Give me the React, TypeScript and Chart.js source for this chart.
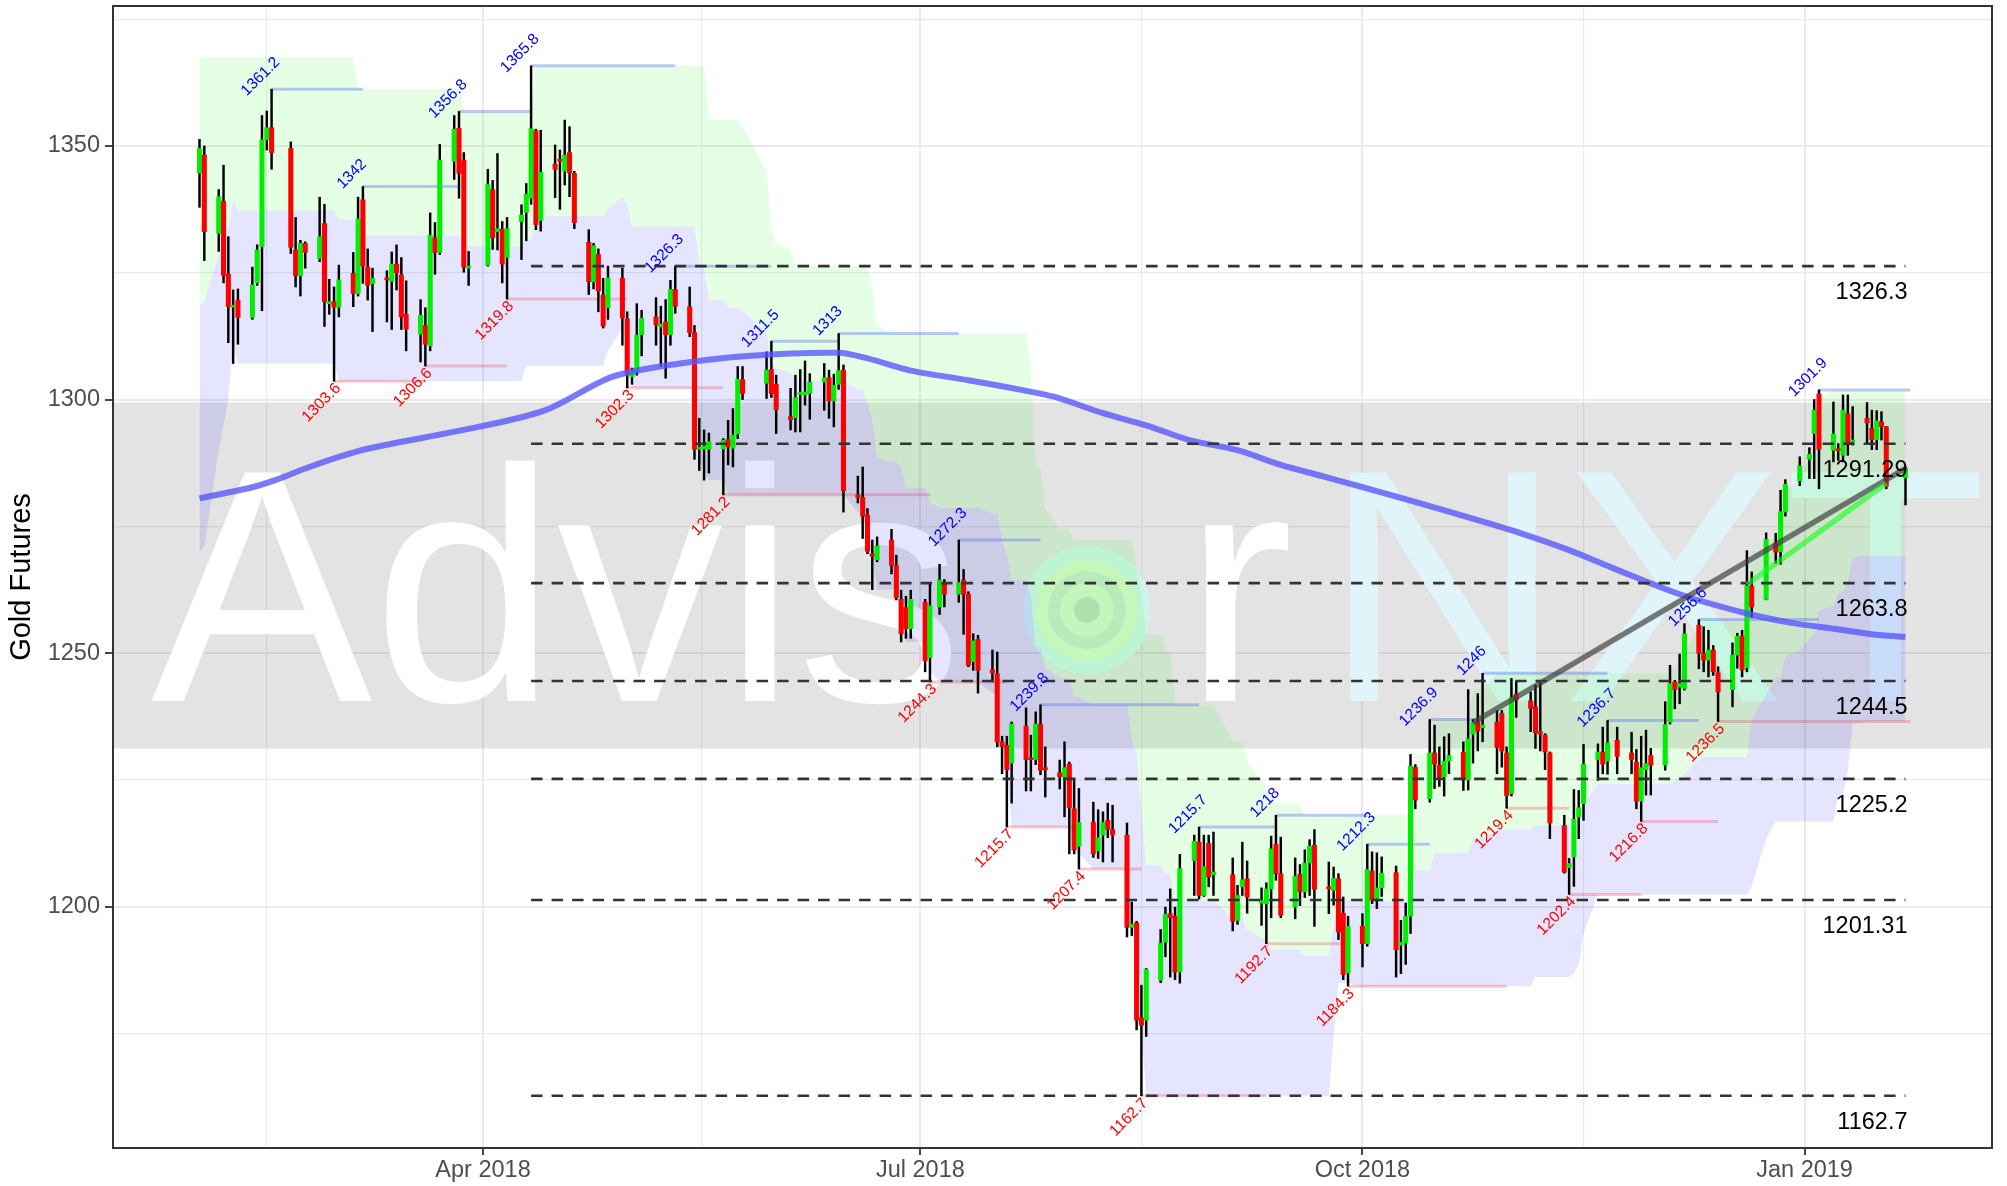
import React, { useEffect, useRef } from "react";
import { Chart, registerables } from "chart.js";

Chart.register(...registerables);

// ---------------- data ----------------
const candleDates = [
  "2018-02-01","2018-02-02",
  "2018-02-05","2018-02-06","2018-02-07","2018-02-08","2018-02-09",
  "2018-02-12","2018-02-13","2018-02-14","2018-02-15","2018-02-16",
  "2018-02-20","2018-02-21","2018-02-22","2018-02-23",
  "2018-02-26","2018-02-27","2018-02-28","2018-03-01","2018-03-02",
  "2018-03-05","2018-03-06","2018-03-07","2018-03-08","2018-03-09",
  "2018-03-12","2018-03-13","2018-03-14","2018-03-15","2018-03-16",
  "2018-03-19","2018-03-20","2018-03-21","2018-03-22","2018-03-23",
  "2018-03-26","2018-03-27","2018-03-28","2018-03-29",
  "2018-04-02","2018-04-03","2018-04-04","2018-04-05","2018-04-06",
  "2018-04-09","2018-04-10","2018-04-11","2018-04-12","2018-04-13",
  "2018-04-16","2018-04-17","2018-04-18","2018-04-19","2018-04-20",
  "2018-04-23","2018-04-24","2018-04-25","2018-04-26","2018-04-27",
  "2018-04-30","2018-05-01","2018-05-02","2018-05-03","2018-05-04",
  "2018-05-07","2018-05-08","2018-05-09","2018-05-10","2018-05-11",
  "2018-05-14","2018-05-15","2018-05-16","2018-05-17","2018-05-18",
  "2018-05-21","2018-05-22","2018-05-23","2018-05-24","2018-05-25",
  "2018-05-30","2018-05-31","2018-06-01",
  "2018-06-04","2018-06-05","2018-06-06","2018-06-07","2018-06-08",
  "2018-06-11","2018-06-12","2018-06-13","2018-06-14","2018-06-15",
  "2018-06-18","2018-06-19","2018-06-20","2018-06-21","2018-06-22",
  "2018-06-25","2018-06-26","2018-06-27","2018-06-28","2018-06-29",
  "2018-07-02","2018-07-03","2018-07-05","2018-07-06",
  "2018-07-09","2018-07-10","2018-07-11","2018-07-12","2018-07-13",
  "2018-07-16","2018-07-17","2018-07-18","2018-07-19","2018-07-20",
  "2018-07-23","2018-07-24","2018-07-25","2018-07-26","2018-07-27",
  "2018-07-30","2018-07-31","2018-08-01","2018-08-02","2018-08-03",
  "2018-08-06","2018-08-07","2018-08-08","2018-08-09","2018-08-10",
  "2018-08-13","2018-08-14","2018-08-15","2018-08-16","2018-08-17",
  "2018-08-20","2018-08-21","2018-08-22","2018-08-23","2018-08-24",
  "2018-08-27","2018-08-28","2018-08-29","2018-08-30","2018-08-31",
  "2018-09-04","2018-09-05","2018-09-06","2018-09-07",
  "2018-09-10","2018-09-11","2018-09-12","2018-09-13","2018-09-14",
  "2018-09-17","2018-09-18","2018-09-19","2018-09-20","2018-09-21",
  "2018-09-24","2018-09-25","2018-09-26","2018-09-27","2018-09-28",
  "2018-10-01","2018-10-02","2018-10-03","2018-10-04","2018-10-05",
  "2018-10-08","2018-10-09","2018-10-10","2018-10-11","2018-10-12",
  "2018-10-15","2018-10-16","2018-10-17","2018-10-18","2018-10-19",
  "2018-10-22","2018-10-23","2018-10-24","2018-10-25","2018-10-26",
  "2018-10-29","2018-10-30","2018-10-31","2018-11-01","2018-11-02",
  "2018-11-05","2018-11-06","2018-11-07","2018-11-08","2018-11-09",
  "2018-11-12","2018-11-13","2018-11-14","2018-11-15","2018-11-16",
  "2018-11-19","2018-11-20","2018-11-21","2018-11-23",
  "2018-11-26","2018-11-27","2018-11-28","2018-11-29","2018-11-30",
  "2018-12-03","2018-12-04","2018-12-05","2018-12-06","2018-12-07",
  "2018-12-10","2018-12-11","2018-12-12","2018-12-13","2018-12-14",
  "2018-12-17","2018-12-18","2018-12-19","2018-12-20","2018-12-21",
  "2018-12-24","2018-12-26","2018-12-27","2018-12-28",
  "2018-12-31","2019-01-02","2019-01-03","2019-01-04",
  "2019-01-07","2019-01-08","2019-01-09","2019-01-10","2019-01-11",
  "2019-01-14","2019-01-15","2019-01-16","2019-01-17","2019-01-18",
  "2019-01-22",
];

const openValues = [
  1344.7,1348.2,
  1332.8,1339.1,1324.7,1318.2,1319.6,
  1316.2,1323.0,1330.1,1351.2,1353.6,
  1349.5,1329.5,1324.4,1330.8,
  1327.8,1334.7,1318.9,1319.3,1318.2,
  1324.9,1320.9,1339.4,1326.1,1322.8,
  1324.0,1323.3,1326.7,1324.6,1316.8,
  1312.9,1314.6,1310.6,1331.9,1329.0,
  1347.0,1353.5,1347.2,1325.9,
  1326.5,1341.4,1333.1,1333.6,1328.0,
  1335.1,1336.9,1339.7,1353.0,1335.3,
  1346.4,1347.4,1345.1,1348.7,1344.6,
  1331.0,1323.2,1328.6,1320.6,1318.1,
  1323.9,1315.9,1304.5,1305.5,1312.8,
  1316.3,1314.3,1315.3,1312.8,1321.7,
  1318.3,1313.2,1290.2,1290.3,1290.2,
  1290.3,1292.1,1290.4,1293.2,1303.9,
  1303.2,1305.9,1303.0,
  1296.6,1296.4,1301.0,1300.9,1301.2,
  1303.5,1304.3,1299.7,1303.0,1305.8,
  1281.2,1280.7,1277.2,1269.6,1268.4,
  1272.3,1267.3,1260.6,1259.0,1254.8,
  1260.0,1249.1,1259.1,1263.9,
  1261.6,1264.4,1261.6,1248.3,1252.7,
  1246.7,1245.9,1232.5,1231.8,1228.3,
  1235.6,1229.3,1229.0,1236.0,1227.4,
  1226.4,1225.6,1228.1,1219.3,1211.9,
  1216.6,1211.0,1214.1,1217.0,1215.2,
  1214.1,1195.9,1196.8,1178.1,1177.6,
  1185.5,1193.0,1198.6,1198.1,1187.1,
  1209.1,1212.7,1202.2,1212.5,1206.3,
  1206.3,1197.3,1203.9,1205.5,
  1200.7,1200.6,1203.5,1212.3,1206.5,
  1199.9,1206.4,1202.9,1208.6,1212.1,
  1203.9,1203.2,1205.5,1198.7,1186.9,
  1196.1,1192.7,1207.0,1201.6,1203.7,
  1206.7,1192.4,1192.8,1198.1,1227.5,
  1221.3,1230.3,1227.9,1225.6,1228.7,
  1230.4,1225.0,1234.0,1236.4,1235.3,
  1236.4,1238.1,1230.3,1222.3,1241.9,
  1240.6,1239.4,1234.5,1233.8,1230.3,
  1216.0,1207.7,1209.8,1217.7,1220.3,
  1229.0,1230.5,1228.7,1232.8,
  1230.3,1228.5,1220.8,1227.0,1229.8,
  1227.9,1236.4,1244.3,1243.3,1243.0,
  1255.5,1249.9,1248.6,1250.6,1246.1,
  1242.8,1249.6,1253.3,1247.1,1263.2,
  1260.6,1271.6,1270.0,1277.8,
  1284.0,1288.2,1293.3,1301.1,
  1290.0,1290.3,1289.0,1297.2,1291.7,
  1296.3,1294.3,1292.1,1295.6,1294.6,
  1284.6,
];

const highValues = [
  1351.3,1350.0,
  1341.4,1346.2,1332.1,1321.6,1321.8,
  1326.1,1330.5,1356.0,1356.9,1361.2,
  1350.8,1335.9,1331.4,1331.1,
  1339.9,1338.5,1323.7,1322.2,1326.5,
  1329.0,1339.9,1342.0,1329.7,1325.9,
  1325.4,1329.1,1330.5,1328.0,1323.4,
  1319.7,1318.1,1336.8,1334.9,1350.3,
  1356.0,1356.8,1348.7,1329.2,
  1345.4,1343.2,1348.5,1335.1,1335.9,
  1338.4,1342.6,1365.8,1353.3,1353.1,
  1350.2,1349.2,1355.1,1353.8,1345.0,
  1333.5,1330.8,1329.7,1323.9,1326.3,
  1325.9,1317.3,1306.2,1318.9,1317.6,
  1320.1,1318.4,1319.7,1323.5,1326.3,
  1322.2,1314.6,1296.3,1294.0,1293.4,
  1292.3,1295.9,1298.2,1306.5,1306.5,
  1309.4,1311.5,1304.8,
  1302.2,1304.8,1305.9,1307.6,1305.1,
  1307.1,1305.8,1305.0,1313.0,1306.8,
  1284.9,1286.7,1278.5,1272.3,1272.9,
  1274.4,1269.3,1262.4,1261.2,1262.4,
  1260.6,1263.7,1267.5,1264.5,
  1272.3,1266.5,1262.1,1253.8,1253.5,
  1250.6,1250.2,1233.6,1233.6,1236.4,
  1239.2,1233.8,1238.4,1239.8,1231.5,
  1228.9,1232.5,1228.5,1224.9,1223.3,
  1220.6,1219.1,1218.7,1220.4,1220.0,
  1216.5,1200.9,1197.1,1184.5,1187.8,
  1195.5,1199.9,1203.5,1199.9,1210.3,
  1214.1,1215.7,1214.1,1214.1,1214.7,
  1209.6,1204.2,1212.7,1209.0,
  1203.7,1204.7,1213.9,1218.0,1213.7,
  1209.6,1208.3,1211.2,1213.2,1215.2,
  1208.8,1207.8,1206.5,1201.9,1198.1,
  1198.6,1212.3,1210.8,1210.6,1209.8,
  1208.0,1197.3,1200.7,1230.0,1228.0,
  1236.9,1235.8,1231.5,1233.5,1234.1,
  1232.5,1242.8,1236.9,1242.0,1246.0,
  1238.7,1238.7,1231.5,1245.0,1244.3,
  1242.3,1243.7,1244.3,1234.1,1230.5,
  1218.0,1209.5,1223.1,1222.9,1232.0,
  1232.1,1235.4,1236.7,1235.4,
  1234.4,1231.0,1233.6,1234.8,1231.2,
  1240.4,1247.6,1244.6,1249.8,1255.8,
  1256.6,1255.2,1254.5,1251.5,1247.3,
  1252.0,1253.9,1254.5,1270.2,1266.0,
  1273.7,1273.6,1282.1,1284.2,
  1288.7,1290.5,1300.0,1301.9,
  1299.5,1291.3,1300.9,1300.9,1298.6,
  1299.4,1297.9,1297.8,1297.6,1294.7,
  1286.6,
];

const lowValues = [
  1337.9,1327.4,
  1329.2,1323.0,1311.2,1307.1,1310.9,
  1315.8,1322.5,1317.5,1349.2,1345.4,
  1328.8,1322.2,1320.4,1325.9,
  1327.2,1314.4,1316.8,1303.6,1316.3,
  1318.3,1320.4,1322.9,1319.6,1313.4,
  1315.3,1313.8,1321.6,1313.8,1309.6,
  1307.4,1306.6,1309.6,1324.7,1328.6,
  1343.4,1339.7,1325.1,1322.5,
  1326.3,1329.6,1329.5,1323.0,1319.8,
  1327.6,1331.3,1338.5,1333.5,1333.2,
  1339.8,1337.5,1342.3,1340.0,1333.7,
  1320.7,1321.8,1317.3,1314.1,1315.8,
  1310.7,1302.3,1303.0,1304.8,1308.6,
  1310.7,1306.5,1304.2,1310.7,1317.0,
  1312.4,1288.2,1286.0,1284.1,1285.5,
  1281.2,1287.1,1286.7,1292.3,1300.0,
  1300.2,1300.4,1293.3,
  1294.0,1293.6,1293.6,1298.9,1296.1,
  1297.9,1296.3,1294.6,1302.0,1277.8,
  1279.6,1272.6,1269.6,1262.5,1268.0,
  1265.6,1260.5,1252.2,1252.9,1252.9,
  1246.3,1244.3,1257.6,1259.1,
  1260.0,1253.7,1247.3,1246.6,1242.1,
  1244.3,1231.5,1226.2,1215.7,1220.4,
  1222.8,1222.8,1228.0,1226.0,1221.6,
  1223.2,1217.7,1210.4,1210.4,1207.4,
  1209.7,1209.5,1208.8,1213.6,1208.8,
  1194.0,1194.3,1175.7,1162.7,1174.4,
  1185.0,1190.1,1186.1,1185.6,1184.9,
  1202.2,1201.5,1202.0,1203.9,1202.2,
  1195.2,1196.5,1202.2,1198.7,
  1196.3,1192.7,1197.8,1205.2,1197.8,
  1197.6,1200.2,1201.8,1202.2,1196.1,
  1198.6,1200.3,1193.5,1185.6,1184.3,
  1188.1,1192.2,1200.6,1199.6,1202.0,
  1186.1,1186.8,1188.6,1194.7,1219.3,
  1220.6,1223.3,1223.7,1221.8,1226.2,
  1222.9,1223.0,1228.3,1230.7,1232.5,
  1226.2,1227.5,1219.4,1221.8,1237.3,
  1234.5,1231.2,1230.7,1227.0,1213.4,
  1206.6,1202.4,1204.0,1213.4,1217.0,
  1224.9,1226.2,1226.1,1226.2,
  1226.2,1219.3,1216.8,1222.0,1222.0,
  1226.9,1236.0,1239.0,1240.0,1242.7,
  1246.9,1246.3,1245.3,1245.6,1236.5,
  1239.4,1247.0,1245.3,1246.3,1257.0,
  1260.5,1267.7,1267.5,1277.0,
  1283.0,1284.4,1284.4,1282.4,
  1287.7,1288.0,1287.7,1289.0,1291.0,
  1291.3,1290.1,1290.1,1292.0,1282.4,
  1279.2,
];

const closeValues = [
  1349.5,1333.1,
  1340.0,1324.5,1318.3,1318.6,1316.2,
  1322.6,1329.5,1351.2,1353.6,1348.7,
  1330.0,1324.4,1330.8,1329.0,
  1332.1,1319.3,1319.3,1318.2,1323.6,
  1320.9,1335.6,1326.3,1322.5,1323.9,
  1323.6,1326.7,1325.0,1316.3,1313.9,
  1316.6,1310.9,1332.4,1329.0,1347.2,
  1353.3,1344.6,1326.1,1326.3,
  1342.4,1331.9,1333.7,1326.7,1333.7,
  1336.4,1340.5,1353.4,1334.5,1344.8,
  1345.4,1347.0,1348.2,1344.7,1334.9,
  1323.2,1330.3,1321.4,1314.5,1324.0,
  1316.1,1304.8,1305.7,1312.7,1316.0,
  1314.7,1314.9,1312.8,1321.7,1318.4,
  1313.2,1290.2,1290.6,1290.8,1291.7,
  1292.0,1290.7,1293.0,1304.0,1301.2,
  1305.8,1301.2,1298.0,
  1296.0,1300.4,1301.4,1301.5,1303.4,
  1304.3,1299.7,1302.8,1305.7,1282.0,
  1280.7,1277.0,1270.1,1269.1,1271.1,
  1267.3,1260.9,1253.8,1254.8,1260.6,
  1248.5,1259.3,1264.4,1261.6,
  1263.9,1261.6,1247.6,1252.4,1246.6,
  1246.1,1232.5,1231.6,1227.0,1236.0,
  1229.0,1229.0,1236.0,1226.9,1227.0,
  1225.6,1227.4,1219.5,1211.2,1216.6,
  1210.4,1213.6,1216.6,1215.2,1214.2,
  1195.9,1196.5,1177.6,1176.6,1187.6,
  1192.8,1198.5,1197.8,1187.1,1207.5,
  1212.9,1202.2,1207.9,1205.8,1206.8,
  1197.1,1202.2,1205.3,1201.9,
  1201.2,1203.5,1211.4,1206.5,1198.3,
  1206.0,1202.9,1208.6,1211.9,1203.4,
  1203.5,1205.6,1195.0,1186.6,1196.1,
  1192.7,1207.3,1201.3,1203.7,1206.6,
  1191.5,1193.0,1198.1,1227.7,1221.0,
  1230.3,1228.1,1225.6,1228.7,1229.8,
  1225.0,1233.1,1236.3,1234.6,1235.8,
  1231.4,1230.7,1221.9,1241.2,1240.8,
  1239.1,1234.3,1234.0,1230.5,1216.5,
  1206.8,1208.5,1217.2,1219.5,1228.1,
  1230.5,1228.1,1232.3,1229.6,
  1229.0,1220.8,1227.4,1228.2,1227.9,
  1235.9,1244.0,1242.8,1244.0,1253.8,
  1249.9,1248.6,1250.6,1246.3,1242.3,
  1249.6,1253.3,1246.7,1263.2,1259.1,
  1272.4,1269.9,1277.9,1283.3,
  1286.9,1289.2,1297.9,1290.2,
  1293.2,1289.9,1297.9,1291.3,1292.0,
  1295.4,1292.1,1295.8,1294.7,1282.9,
  1286.4,
];

// moving average
const maDates = [
  "2018-02-01","2018-02-12","2018-02-17","2018-02-23","2018-03-02","2018-03-08",
  "2018-03-31","2018-04-14","2018-04-28","2018-05-12","2018-05-26","2018-06-14",
  "2018-06-20","2018-06-29","2018-07-11","2018-07-22","2018-07-29","2018-08-08",
  "2018-08-17","2018-08-26","2018-09-05","2018-09-14","2018-09-23","2018-10-09",
  "2018-10-25","2018-11-03","2018-11-13","2018-11-22","2018-12-06","2018-12-20",
  "2018-12-29","2019-01-07","2019-01-17","2019-01-22",
];
const maValues = [
  1280.5,1282.7,1284.2,1286.4,1288.7,1290.3,
  1294.6,1297.9,1304.5,1307.1,1308.6,1309.2,
  1308.1,1305.7,1303.8,1301.9,1300.5,1297.3,
  1294.9,1292.0,1290.0,1287.1,1284.8,1280.6,
  1276.2,1273.6,1270.3,1266.8,1261.6,1257.8,
  1256.0,1254.8,1253.5,1253.2,
];

// channel: upper edge (green ribbon top), middle (green/blue boundary), lower edge (blue ribbon bottom)
const channelDates = [
  "2018-02-01","2018-02-02","2018-02-05","2018-02-06","2018-02-07","2018-02-08","2018-02-09",
  "2018-03-01","2018-03-02","2018-03-05","2018-03-06","2018-03-27","2018-03-28","2018-04-09",
  "2018-04-10","2018-04-11","2018-04-12","2018-04-26","2018-04-27","2018-04-30","2018-05-01",
  "2018-05-02","2018-05-15","2018-05-16","2018-05-17","2018-05-18","2018-05-21","2018-05-22",
  "2018-05-24","2018-05-25","2018-05-30","2018-05-31","2018-06-01","2018-06-04","2018-06-05",
  "2018-06-15","2018-06-18","2018-06-19","2018-06-20","2018-06-21","2018-06-22","2018-06-25",
  "2018-06-26","2018-06-27","2018-06-28","2018-07-02","2018-07-03","2018-07-05","2018-07-13",
  "2018-07-16","2018-07-17","2018-07-18","2018-07-19","2018-07-20","2018-07-23","2018-07-24",
  "2018-07-25","2018-07-26","2018-07-27","2018-07-30","2018-08-01","2018-08-02","2018-08-03",
  "2018-08-06","2018-08-13","2018-08-14","2018-08-15","2018-08-16","2018-08-17","2018-08-20",
  "2018-08-21","2018-08-22","2018-08-23","2018-08-31","2018-09-04","2018-09-06","2018-09-07",
  "2018-09-10","2018-09-11","2018-09-12","2018-09-13","2018-09-17","2018-09-18","2018-09-19",
  "2018-09-24","2018-09-25","2018-09-26","2018-09-28","2018-10-01","2018-10-11","2018-10-12",
  "2018-10-15","2018-10-16","2018-10-23","2018-10-24","2018-10-26","2018-10-29","2018-11-05",
  "2018-11-06","2018-11-13","2018-11-14","2018-11-15","2018-11-16","2018-11-19","2018-12-04",
  "2018-12-05","2018-12-06","2018-12-07","2018-12-10","2018-12-11","2018-12-20","2018-12-21",
  "2018-12-24","2018-12-26","2018-12-27","2018-12-28","2018-12-31","2019-01-02","2019-01-03",
  "2019-01-04","2019-01-07","2019-01-08","2019-01-09","2019-01-10","2019-01-11","2019-01-14",
  "2019-01-22",
];
const channelUpper = [
  1367.5,1367.5,1367.5,1367.5,1367.5,1367.5,1367.5,
  1367.5,1367.5,1367.5,1361.2,1361.2,1356.8,1356.8,
  1356.8,1356.8,1365.8,1365.8,1365.8,1365.8,1365.8,
  1365.8,1365.8,1365.8,1365.8,1355.1,1355.1,1355.1,
  1355.1,1353.8,1345.0,1333.5,1330.8,1329.7,1326.3,
  1326.3,1326.3,1326.3,1326.3,1322.2,1314.6,1313.0,
  1313.0,1313.0,1313.0,1313.0,1313.0,1313.0,1313.0,
  1313.0,1313.0,1313.0,1313.0,1313.0,1313.0,1306.8,
  1286.7,1286.7,1278.5,1274.4,1274.4,1272.3,1272.3,
  1272.3,1272.3,1272.3,1266.5,1262.1,1253.8,1253.5,
  1250.6,1250.2,1239.8,1239.8,1232.5,1232.5,1228.5,
  1224.9,1223.3,1220.6,1220.4,1220.4,1220.0,1218.0,
  1218.0,1218.0,1218.0,1218.0,1218.0,1218.0,1230.0,
  1230.0,1236.9,1236.9,1242.8,1242.8,1246.0,1246.0,
  1246.0,1246.0,1246.0,1246.0,1246.0,1246.0,1246.0,
  1247.6,1247.6,1249.8,1255.8,1256.6,1256.6,1270.2,
  1270.2,1273.7,1273.7,1282.1,1284.2,1288.7,1290.5,
  1300.0,1301.9,1301.9,1301.9,1301.9,1301.9,1301.9,
  1301.9,
];
const channelMiddle = [
  1318.75,1319.25,1328.75,1331.25,1333.75,1339.35,1337.3,
  1337.3,1335.55,1335.55,1332.4,1332.4,1330.2,1330.2,
  1331.7,1331.7,1336.2,1336.2,1337.7,1339.95,1338.25,
  1334.05,1334.05,1327.0,1325.9,1319.6,1319.6,1318.15,
  1318.15,1317.5,1313.1,1307.35,1306.0,1305.45,1303.75,
  1303.75,1302.05,1302.05,1299.45,1295.9,1288.55,1287.75,
  1287.75,1286.75,1282.6,1282.6,1279.65,1278.65,1278.65,
  1277.55,1277.55,1272.25,1269.6,1264.35,1264.35,1261.25,
  1251.2,1251.2,1247.1,1245.05,1245.05,1241.35,1241.35,
  1239.85,1239.85,1233.15,1230.25,1218.9,1208.25,1208.1,
  1206.65,1206.45,1201.25,1201.25,1197.6,1197.6,1195.6,
  1193.8,1193.0,1191.65,1191.55,1191.55,1191.35,1190.35,
  1190.35,1196.2,1201.45,1201.45,1201.15,1201.15,1207.15,
  1207.15,1210.6,1210.6,1213.55,1213.55,1215.15,1215.15,
  1216.05,1216.05,1216.4,1217.3,1220.35,1224.2,1224.2,
  1225.0,1225.0,1226.1,1229.1,1229.5,1229.5,1237.1,
  1241.8,1245.25,1245.25,1249.45,1250.5,1252.75,1253.65,
  1258.4,1259.35,1261.95,1261.95,1264.4,1268.95,1269.2,
  1269.2,
];
const channelLower = [
  1270.0,1271.0,1290.0,1295.0,1300.0,1311.2,1307.1,
  1307.1,1303.6,1303.6,1303.6,1303.6,1303.6,1303.6,
  1306.6,1306.6,1306.6,1306.6,1309.6,1314.1,1310.7,
  1302.3,1302.3,1288.2,1286.0,1284.1,1284.1,1281.2,
  1281.2,1281.2,1281.2,1281.2,1281.2,1281.2,1281.2,
  1281.2,1277.8,1277.8,1272.6,1269.6,1262.5,1262.5,
  1262.5,1260.5,1252.2,1252.2,1246.3,1244.3,1244.3,
  1242.1,1242.1,1231.5,1226.2,1215.7,1215.7,1215.7,
  1215.7,1215.7,1215.7,1215.7,1215.7,1210.4,1210.4,
  1207.4,1207.4,1194.0,1194.0,1175.7,1162.7,1162.7,
  1162.7,1162.7,1162.7,1162.7,1162.7,1162.7,1162.7,
  1162.7,1162.7,1162.7,1162.7,1162.7,1162.7,1162.7,
  1162.7,1174.4,1184.9,1184.9,1184.3,1184.3,1184.3,
  1184.3,1184.3,1184.3,1184.3,1184.3,1184.3,1184.3,
  1186.1,1186.1,1186.8,1188.6,1194.7,1202.4,1202.4,
  1202.4,1202.4,1202.4,1202.4,1202.4,1202.4,1204.0,
  1213.4,1216.8,1216.8,1216.8,1216.8,1216.8,1216.8,
  1216.8,1216.8,1222.0,1222.0,1226.9,1236.0,1236.5,
  1236.5,
];

// horizontal levels
const levelValues = [1326.3, 1291.29, 1263.8, 1244.5, 1225.2, 1201.31, 1162.7];
const levelStartDate = "2018-04-11";
const levelEndDate = "2019-01-22";

// swing highs / lows
const highPivotDates = [
  "2018-02-16","2018-03-07","2018-03-27","2018-04-11","2018-05-11","2018-05-31","2018-06-14",
  "2018-07-09","2018-07-26","2018-08-28","2018-09-13","2018-10-02","2018-10-15","2018-10-26",
  "2018-11-21","2018-12-10","2019-01-04",
];
const highPivotValues = [1361.2,1342,1356.8,1365.8,1326.3,1311.5,1313,1272.3,1239.8,1215.7,1218,1212.3,1236.9,1246,1236.7,1256.6,1301.9];
const highPivotEnds = [
  "2018-03-07","2018-03-27","2018-04-11","2018-05-11","2018-05-31","2018-06-14","2018-07-09",
  "2018-07-26","2018-08-28","2018-09-13","2018-10-02","2018-10-15","2018-10-26","2018-11-21",
  "2018-12-10","2019-01-04","2019-01-23",
];
const lowPivotDates = [
  "2018-03-01","2018-03-20","2018-04-06","2018-05-01","2018-05-21","2018-07-03","2018-07-19",
  "2018-08-03","2018-08-16","2018-09-11","2018-09-28","2018-10-31","2018-11-13","2018-11-28",
  "2018-12-14",
];
const lowPivotValues = [1303.6,1306.6,1319.8,1302.3,1281.2,1244.3,1215.7,1207.4,1162.7,1192.7,1184.3,1219.4,1202.4,1216.8,1236.5];
const lowPivotEnds = [
  "2018-03-20","2018-04-06","2018-05-01","2018-05-21","2018-07-03","2018-07-19","2018-08-03",
  "2018-08-16","2018-09-11","2018-09-28","2018-10-31","2018-11-13","2018-11-28","2018-12-14",
  "2019-01-23",
];

// trend lines
const trendGreyDates = ["2018-10-24", "2019-01-22"];
const trendGreyValues = [1236.3, 1286.4];
const trendGreenDates = ["2018-12-20", "2019-01-18"];
const trendGreenValues = [1263.5, 1283.5];

// shaded band
const bandLow = 1231.2;
const bandHigh = 1299.4;

// axes
const yTickValues = [1175, 1200, 1225, 1250, 1275, 1300, 1325, 1350, 1375];
const yMajorTicks = [1200, 1250, 1300, 1350];
const yMin = 1152.4;
const yMax = 1377.6;
const xMajorTickDates = ["2018-01-01", "2018-04-01", "2018-07-01", "2018-10-01", "2019-01-01"];
const xMajorTickLabels = ["Jan 2018", "Apr 2018", "Jul 2018", "Oct 2018", "Jan 2019"];
const xMinDate = "2018-01-14";
const xMaxDate = "2019-02-09";
const yTitle = "Gold Futures";

// ---------------- helpers ----------------
const FONT = '"Liberation Sans", Arial, Helvetica, sans-serif';
const ORIGIN = Date.UTC(2018, 3, 1);
function dayOf(s: string): number {
  const [y, m, d] = s.split("-").map(Number);
  return (Date.UTC(y, m - 1, d) - ORIGIN) / 86400000;
}
const pts = (ds: string[], vs: number[]) => ds.map((d, i) => ({ x: dayOf(d), y: vs[i] }));

const xMajorDays = xMajorTickDates.map(dayOf);
const xMinorDays = xMajorDays.slice(1).map((v, i) => (v + xMajorDays[i]) / 2);
const xAllTicks = [...xMajorDays, ...xMinorDays].filter((v) => v > dayOf(xMinDate) && v < dayOf(xMaxDate)).sort((a, b) => a - b);
const isMajorX = (v: number) => xMajorDays.some((m) => Math.abs(m - v) < 1e-6);
const isMajorY = (v: number) => yMajorTicks.includes(v);

const decorPlugin: any = {
  id: "decor",
  beforeDatasetsDraw(chart: any) {
    const { ctx, chartArea: a, scales } = chart;
    const ys = scales.y;
    ctx.save();
    ctx.beginPath();
    ctx.rect(a.left, a.top, a.right - a.left, a.bottom - a.top);
    ctx.clip();
    // grey band
    const yt = ys.getPixelForValue(bandHigh);
    const yb = ys.getPixelForValue(bandLow);
    ctx.fillStyle = "rgba(127,127,127,0.215)";
    ctx.fillRect(a.left, yt, a.right - a.left, yb - yt);
    // watermark
    const L = a.left, T = a.top;
    ctx.font = `332px ${FONT}`;
    ctx.textAlign = "left";
    ctx.textBaseline = "alphabetic";
    ctx.fillStyle = "#FFFFFF";
    ctx.fillText("Advis", L + 38, T + 695);
    ctx.fillText("r", L + 1070, T + 695);
    ctx.fillStyle = "#DFF5FA";
    ctx.fillText("NXT", L + 1210, T + 695);
    // logo (target) in place of the "o"
    const cx = L + 974, cy = T + 604;
    const rings: [number, string][] = [
      [64, "#D2F3EC"],
      [51, "#DBF7CF"],
      [39, "#CFE8CF"],
      [27, "#D9F5D2"],
      [13, "#C4DCC4"],
    ];
    for (const [r, c] of rings) {
      ctx.beginPath();
      ctx.arc(cx, cy, r, 0, Math.PI * 2);
      ctx.fillStyle = c;
      ctx.fill();
    }
    ctx.restore();
  },
  afterDatasetsDraw(chart: any) {
    const { ctx, chartArea: a, scales } = chart;
    const xs = scales.x, ys = scales.y;
    ctx.save();
    ctx.beginPath();
    ctx.rect(a.left, a.top, a.right - a.left, a.bottom - a.top);
    ctx.clip();
    // pivot labels
    ctx.font = `15.5px ${FONT}`;
    ctx.textAlign = "center";
    ctx.textBaseline = "middle";
    highPivotDates.forEach((d, i) => {
      const px = xs.getPixelForValue(dayOf(d));
      const py = ys.getPixelForValue(highPivotValues[i]);
      ctx.save();
      ctx.translate(px - 11, py - 12.5);
      ctx.rotate(-Math.PI / 4);
      ctx.fillStyle = "#0000FF";
      ctx.fillText(String(highPivotValues[i]), 0, 0);
      ctx.restore();
    });
    lowPivotDates.forEach((d, i) => {
      const px = xs.getPixelForValue(dayOf(d));
      const py = ys.getPixelForValue(lowPivotValues[i]);
      ctx.save();
      ctx.translate(px - 12.5, py + 21.5);
      ctx.rotate(-Math.PI / 4);
      ctx.fillStyle = "#FF0000";
      ctx.fillText(String(lowPivotValues[i]), 0, 0);
      ctx.restore();
    });
    // level labels
    ctx.font = `23.5px ${FONT}`;
    ctx.textAlign = "right";
    ctx.textBaseline = "middle";
    ctx.fillStyle = "#000000";
    const lx = xs.getPixelForValue(dayOf(levelEndDate)) + 2;
    levelValues.forEach((v) => {
      ctx.fillText(String(v), lx, ys.getPixelForValue(v) + 26.5);
    });
    ctx.restore();
  },
  afterDraw(chart: any) {
    const { ctx, chartArea: a } = chart;
    ctx.save();
    ctx.strokeStyle = "#333333";
    ctx.lineWidth = 2;
    ctx.strokeRect(a.left, a.top, a.right - a.left, a.bottom - a.top);
    ctx.translate(22, (a.top + a.bottom) / 2);
    ctx.rotate(-Math.PI / 2);
    ctx.font = `29px ${FONT}`;
    ctx.textAlign = "center";
    ctx.textBaseline = "middle";
    ctx.fillStyle = "#000000";
    ctx.fillText(yTitle, 0, 0);
    ctx.restore();
  },
};

export default function App() {
  const ref = useRef<HTMLCanvasElement>(null);
  useEffect(() => {
    const canvas = ref.current;
    if (!canvas) return;
    const datasets: any[] = [];
    const noLine = { borderColor: "rgba(0,0,0,0)", borderWidth: 0, pointRadius: 0, tension: 0 };

    // channel ribbons: green between upper & middle, blue between middle & lower
    datasets.push({ type: "line", data: pts(channelDates, channelUpper), ...noLine, backgroundColor: "rgba(0,255,0,0.1)", fill: "+1", order: 100 });
    datasets.push({ type: "line", data: pts(channelDates, channelMiddle), ...noLine, backgroundColor: "rgba(0,0,255,0.1)", fill: "+1", order: 99 });
    datasets.push({ type: "line", data: pts(channelDates, channelLower), ...noLine, fill: false, order: 98 });

    highPivotDates.forEach((d, i) => {
      datasets.push({
        type: "line",
        data: [{ x: dayOf(d), y: highPivotValues[i] }, { x: dayOf(highPivotEnds[i]), y: highPivotValues[i] }],
        borderColor: "rgba(70,100,235,0.35)", borderWidth: 3, pointRadius: 0, fill: false, order: 80,
      });
    });
    lowPivotDates.forEach((d, i) => {
      datasets.push({
        type: "line",
        data: [{ x: dayOf(d), y: lowPivotValues[i] }, { x: dayOf(lowPivotEnds[i]), y: lowPivotValues[i] }],
        borderColor: "rgba(240,70,90,0.3)", borderWidth: 3, pointRadius: 0, fill: false, order: 80,
      });
    });

    // wicks
    datasets.push({
      type: "bar",
      data: candleDates.map((d, i) => ({ x: dayOf(d), y: [lowValues[i], highValues[i]] })),
      backgroundColor: "#000000", barThickness: 1.8, grouped: false, borderWidth: 0, order: 60,
    });
    // bodies
    datasets.push({
      type: "bar",
      data: candleDates.map((d, i) => {
        const o = openValues[i], c = closeValues[i];
        const lo = Math.min(o, c), hi = Math.max(o, c);
        const m = (lo + hi) / 2;
        return { x: dayOf(d), y: hi - lo < 0.35 ? [m - 0.18, m + 0.18] : [lo, hi] };
      }),
      backgroundColor: candleDates.map((_, i) => (closeValues[i] >= openValues[i] ? "#00EE00" : "#FF0000")),
      barThickness: 4.4, grouped: false, borderWidth: 0, order: 55,
    });

    // moving average
    datasets.push({
      type: "line", data: pts(maDates, maValues), borderColor: "rgba(85,85,255,0.78)", borderWidth: 6,
      pointRadius: 0, fill: false, tension: 0.3, borderJoinStyle: "round", order: 40,
    });

    // level lines
    levelValues.forEach((v) => {
      datasets.push({
        type: "line",
        data: [{ x: dayOf(levelStartDate), y: v }, { x: dayOf(levelEndDate), y: v }],
        borderColor: "#333333", borderWidth: 2.6, borderDash: [11.5, 9], pointRadius: 0, fill: false, order: 30,
      });
    });

    // trend lines
    datasets.push({
      type: "line", data: pts(trendGreyDates, trendGreyValues), borderColor: "rgba(60,60,60,0.68)",
      borderWidth: 5.5, pointRadius: 0, fill: false, order: 20,
    });
    datasets.push({
      type: "line", data: pts(trendGreenDates, trendGreenValues), borderColor: "rgba(20,255,20,0.6)",
      borderWidth: 5.5, pointRadius: 0, fill: false, order: 19,
    });

    const chart = new Chart(canvas, {
      type: "line",
      data: { datasets },
      options: {
        animation: false,
        responsive: false,
        devicePixelRatio: 1,
        events: [],
        layout: { padding: { left: 0, right: 15, top: 6, bottom: 0 } },
        plugins: { legend: { display: false }, tooltip: { enabled: false }, title: { display: false } },
        scales: {
          x: {
            type: "linear",
            min: dayOf(xMinDate),
            max: dayOf(xMaxDate),
            offset: false,
            afterBuildTicks: (s: any) => { s.ticks = xAllTicks.map((v) => ({ value: v })); },
            afterFit: (s: any) => { s.height = 38; s.paddingLeft = 0; s.paddingRight = 0; },
            border: { display: false },
            grid: {
              offset: false,
              color: "#EBEBEB",
              lineWidth: (c: any) => (c.tick && isMajorX(c.tick.value) ? 2 : 1.2),
              drawTicks: true,
              tickLength: 7,
              tickWidth: 1.8,
              tickColor: (c: any) => (c.tick && isMajorX(c.tick.value) ? "#333333" : "rgba(0,0,0,0)"),
            },
            ticks: {
              autoSkip: false, maxRotation: 0, minRotation: 0, padding: 1,
              color: "#4D4D4D", font: { family: FONT, size: 23.5 },
              callback: (v: any) => {
                const i = xMajorDays.findIndex((m) => Math.abs(m - v) < 1e-6);
                return i >= 0 ? xMajorTickLabels[i] : "";
              },
            },
          },
          y: {
            type: "linear",
            min: yMin,
            max: yMax,
            afterBuildTicks: (s: any) => { s.ticks = yTickValues.map((v) => ({ value: v })); },
            afterFit: (s: any) => { s.width = 113; s.paddingTop = 0; s.paddingBottom = 0; },
            border: { display: false },
            grid: {
              color: "#EBEBEB",
              lineWidth: (c: any) => (c.tick && isMajorY(c.tick.value) ? 2 : 1.2),
              drawTicks: true,
              tickLength: 8,
              tickWidth: 1.8,
              tickColor: (c: any) => (c.tick && isMajorY(c.tick.value) ? "#333333" : "rgba(0,0,0,0)"),
            },
            ticks: {
              autoSkip: false, padding: 5, color: "#4D4D4D", font: { family: FONT, size: 23.5 },
              callback: (v: any) => (isMajorY(v) ? String(v) : ""),
            },
          },
        },
      },
      plugins: [decorPlugin],
    } as any);
    return () => chart.destroy();
  }, []);

  return (
    <div style={{ position: "fixed", left: 0, top: 0, width: 2007, height: 1186, background: "#ffffff" }}>
      <canvas ref={ref} width={2007} height={1186} style={{ width: 2007, height: 1186, display: "block" }} />
    </div>
  );
}
